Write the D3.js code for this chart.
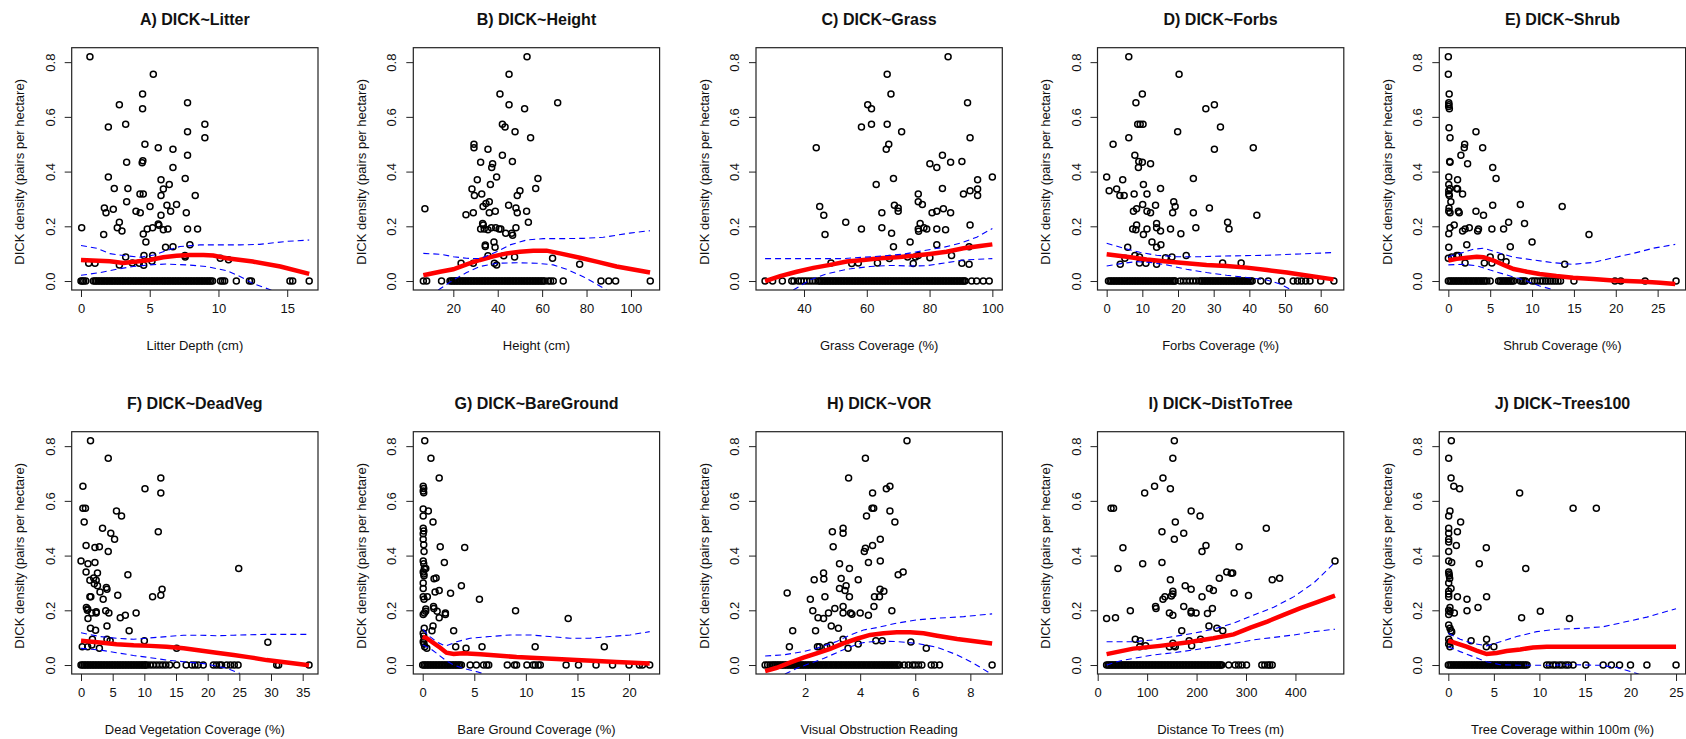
<!DOCTYPE html>
<html>
<head>
<meta charset="utf-8">
<script src="https://d3js.org/d3.v7.min.js"></script>
<style>
  body { margin: 0; background: #fff; }
  svg { display: block; font-family: "Liberation Sans", Arial, sans-serif; }
</style>
</head>
<body>
<svg id="chart" width="1686" height="739"></svg>
<script>
// ---- data ----
var yTicks = [0, 0.2, 0.4, 0.6, 0.8];
var yDomain = [-0.0328, 0.8528];

var titles = ["A) DICK~Litter", "B) DICK~Height", "C) DICK~Grass", "D) DICK~Forbs", "E) DICK~Shrub",
              "F) DICK~DeadVeg", "G) DICK~BareGround", "H) DICK~VOR", "I) DICK~DistToTree", "J) DICK~Trees100"];
var xLabels = ["Litter Depth (cm)", "Height (cm)", "Grass Coverage (%)", "Forbs Coverage (%)", "Shrub Coverage (%)",
               "Dead Vegetation Coverage (%)", "Bare Ground Coverage (%)", "Visual Obstruction Reading",
               "Distance To Trees (m)", "Tree Coverage within 100m (%)"];
var xTicks = [[0,5,10,15], [20,40,60,80,100], [40,60,80,100], [0,10,20,30,40,50,60], [0,5,10,15,20,25],
              [0,5,10,15,20,25,30,35], [0,5,10,15,20], [2,4,6,8], [0,100,200,300,400], [0,5,10,15,20,25]];
var xDomains = [[-0.676,17.24], [1.98,112.9], [24.71,103.17], [-2.57,66.48], [-1.08,28.34],
                [-1.47,37.42], [-0.91,22.96], [0.218,9.16], [-0.4,497.8], [-0.99,26.05]];

// A) litter
var litterPts = [[0.65,0.82],[5.26,0.756],[4.48,0.684],[7.75,0.652],[2.79,0.644],[4.48,0.63],[3.25,0.573],[9.01,0.573],[1.99,0.563],[7.75,0.546],[9.01,0.524],[4.65,0.5],[5.62,0.487],[6.69,0.482],[7.75,0.46],[4.5,0.44],[4.45,0.432],[3.32,0.434],[6.69,0.415],[7.58,0.375],[1.99,0.38],[5.82,0.37],[2.42,0.338],[3.41,0.338],[6.42,0.353],[5.99,0.336],[4.29,0.318],[4.53,0.318],[5.82,0.313],[8.31,0.313],[3.32,0.29],[6.25,0.277],[6.95,0.28],[1.7,0.267],[2.35,0.262],[5.02,0.272],[1.82,0.25],[4.0,0.255],[4.31,0.25],[6.52,0.255],[7.66,0.25],[5.82,0.24],[2.79,0.215],[5.62,0.208],[5.67,0.204],[0.05,0.195],[2.64,0.195],[2.98,0.183],[4.82,0.19],[5.21,0.195],[5.99,0.187],[6.32,0.19],[7.75,0.19],[8.48,0.19],[4.53,0.172],[1.65,0.17],[4.72,0.143],[7.92,0.133],[6.15,0.123],[6.69,0.125],[3.25,0.088],[4.58,0.093],[5.21,0.093],[7.58,0.088],[7.56,0.093],[10.13,0.083],[10.73,0.078],[0.56,0.065],[1.02,0.065],[2.79,0.059],[3.73,0.066],[4.24,0.065],[4.56,0.058],[5.16,0.072]];
var litterZeros = [0,0.1,0.2,0.35,0.9,1.02,1.13,1.25,1.37,1.49,1.6,1.72,1.84,1.95,2.07,2.19,2.3,2.42,2.54,2.66,2.77,2.89,3.01,3.12,3.24,3.36,3.48,3.59,3.71,3.83,3.94,4.06,4.18,4.3,4.41,4.53,4.65,4.76,4.88,5.0,5.12,5.23,5.35,5.47,5.58,5.7,5.82,5.94,6.05,6.17,6.29,6.4,6.52,6.64,6.76,6.87,6.99,7.11,7.22,7.34,7.46,7.58,7.69,7.81,7.93,8.04,8.16,8.28,8.4,8.51,8.63,8.75,8.86,8.98,9.1,9.22,9.33,9.45,9.57,10.15,10.3,10.45,11.3,12.25,12.4,15.2,15.4,16.6];
var litterFit = [[0,0.077],[2.1,0.072],[3.08,0.066],[4.05,0.071],[5.0,0.077],[5.98,0.087],[6.95,0.092],[7.92,0.095],[8.9,0.095],[9.62,0.093],[10.6,0.083],[12.5,0.071],[14.5,0.053],[16.6,0.026]];
var litterUpper = [[0,0.13],[1.14,0.12],[2.1,0.1],[3.3,0.092],[4.3,0.087],[5.3,0.095],[6.2,0.111],[7.2,0.126],[8.65,0.132],[9.86,0.132],[11.6,0.132],[13.0,0.134],[15.0,0.145],[16.6,0.15]];
var litterLower = [[0,0.021],[1.4,0.031],[2.6,0.043],[3.8,0.053],[5.0,0.059],[6.2,0.062],[7.7,0.059],[9.1,0.053],[10.6,0.038],[11.6,0.016],[12.5,-0.009],[14.0,-0.036]];

// B) height
var heightPts = [[53.2,0.82],[45.1,0.756],[41.0,0.684],[67.0,0.652],[45.1,0.644],[52.1,0.63],[42.1,0.573],[43.3,0.563],[47.8,0.546],[54.8,0.524],[29.3,0.5],[29.3,0.487],[35.6,0.482],[42.1,0.46],[46.6,0.437],[32.3,0.434],[37.7,0.429],[37.3,0.415],[39.5,0.38],[58.1,0.375],[30.8,0.37],[57.1,0.338],[28.4,0.336],[50.0,0.33],[36.7,0.353],[32.8,0.318],[29.5,0.313],[48.8,0.313],[36.2,0.29],[34.7,0.283],[33.4,0.272],[44.9,0.277],[48.2,0.267],[7.2,0.264],[29.0,0.25],[25.7,0.242],[36.2,0.25],[38.9,0.255],[48.8,0.25],[53.0,0.255],[53.8,0.215],[33.2,0.21],[33.5,0.205],[32.3,0.19],[33.9,0.19],[35.6,0.187],[37.1,0.195],[39.1,0.195],[40.6,0.19],[41.4,0.19],[43.6,0.175],[46.3,0.175],[46.7,0.167],[48.2,0.195],[34.4,0.132],[34.4,0.126],[38.3,0.143],[38.8,0.123],[35.6,0.092],[42.7,0.092],[47.6,0.088],[23.5,0.065],[29.0,0.065],[38.5,0.065],[39.5,0.059],[64.7,0.083],[76.9,0.061]];
var heightZeros = [6.5,8.0,14.7,18.5,19.2,19.9,20.6,21.3,22.0,22.7,23.4,24.1,24.8,25.5,26.2,26.9,27.6,28.3,29.0,29.7,30.4,31.1,31.8,32.5,33.2,33.9,34.6,35.3,36.0,36.7,37.4,38.1,38.8,39.5,40.2,40.9,41.6,42.3,43.0,43.7,44.4,45.1,45.8,46.5,47.2,47.9,48.6,49.3,50.0,50.7,51.4,52.1,52.8,53.5,54.2,54.9,55.6,56.3,57.0,57.7,58.4,59.1,59.8,60.5,61.2,62.8,63.8,65.0,69.5,86.5,90.0,93.1,108.7];
var heightFit = [[6.5,0.021],[14,0.034],[20,0.043],[26,0.061],[32,0.077],[38,0.09],[44,0.101],[50,0.107],[56,0.111],[62,0.111],[68,0.101],[77,0.085],[84.5,0.071],[93.5,0.053],[108.6,0.031]];
var heightUpper = [[6.5,0.101],[14,0.098],[20,0.089],[26,0.083],[32,0.082],[39.5,0.107],[45.5,0.132],[53,0.15],[60.5,0.155],[69.5,0.155],[78.5,0.156],[87.5,0.16],[99.5,0.175],[108.6,0.184]];
var heightLower = [[13.2,-0.033],[20,0.004],[26,0.031],[32,0.053],[39.5,0.065],[48.5,0.067],[57.5,0.065],[65,0.059],[71,0.043],[78.5,0.016],[84.5,-0.011],[89,-0.033]];

// C) grass
var grassPts = [[85.9,0.82],[66.5,0.756],[67.7,0.684],[92.1,0.652],[60.3,0.644],[61.5,0.63],[58.3,0.563],[61.5,0.573],[66.5,0.573],[71.1,0.546],[92.9,0.524],[67.0,0.5],[66.2,0.482],[43.9,0.487],[84.1,0.46],[80.1,0.429],[82.3,0.415],[86.7,0.434],[90.3,0.437],[68.5,0.375],[100,0.38],[95.3,0.37],[63.0,0.353],[84.1,0.338],[92.9,0.33],[95.3,0.336],[90.8,0.318],[95.3,0.313],[76.4,0.318],[76.4,0.29],[77.7,0.28],[68.8,0.277],[70.0,0.267],[70.0,0.255],[45.0,0.272],[64.8,0.25],[46.3,0.24],[80.8,0.25],[82.3,0.255],[84.4,0.264],[86.7,0.25],[53.3,0.215],[92.9,0.205],[58.3,0.19],[64.8,0.195],[77.0,0.21],[76.4,0.19],[79.1,0.19],[76.5,0.182],[78.2,0.195],[82.3,0.19],[85.1,0.187],[67.9,0.175],[46.7,0.17],[73.8,0.143],[68.5,0.125],[82.3,0.133],[92.6,0.125],[73.0,0.088],[76.4,0.093],[75.5,0.088],[87.0,0.093],[48.6,0.066],[55.2,0.064],[57.3,0.066],[63.4,0.066],[67.2,0.082],[74.8,0.064],[90.3,0.065],[92.6,0.061],[80.1,0.085]];
var grassZeros = [27.6,30.0,33.1,36.1,36.8,38.2,39.1,40.0,40.9,41.8,42.7,43.6,44.5,45.0,45.5,46.0,46.5,47.0,47.5,48.0,48.5,49.0,49.5,50.0,50.5,51.0,51.5,52.0,52.5,53.0,53.5,54.0,54.5,55.0,55.5,56.0,56.5,57.0,57.5,58.0,58.5,59.0,59.5,60.0,60.5,61.0,61.5,62.0,62.5,63.0,63.5,64.0,64.5,65.0,65.5,66.0,66.5,67.0,67.5,68.0,68.5,69.0,69.5,70.0,70.5,71.0,71.5,72.0,72.5,73.0,73.5,74.0,74.5,75.0,75.5,76.0,76.5,77.0,77.5,78.0,78.5,79.0,79.5,80.0,80.5,81.0,81.5,82.0,82.5,83.0,83.5,84.0,84.5,85.0,85.5,86.0,86.5,87.0,87.5,88.0,88.5,89.0,89.5,90.0,90.5,91.0,91.3,93.4,95.0,97.1,99.0];
var grassFit = [[27.6,0.0],[32.4,0.018],[37.7,0.034],[43,0.048],[48.3,0.059],[53.6,0.071],[58.9,0.077],[64.2,0.083],[69.5,0.087],[74.8,0.092],[80.1,0.099],[85.4,0.107],[90.8,0.12],[96.1,0.128],[100,0.134]];
var grassUpper = [[27.6,0.082],[39.8,0.082],[52.5,0.082],[58.9,0.087],[65.3,0.092],[71.6,0.098],[78,0.111],[84.4,0.123],[89.7,0.138],[95,0.16],[100,0.192]];
var grassLower = [[36.6,-0.033],[41.9,0.004],[47.2,0.026],[53.6,0.043],[61,0.053],[67.4,0.057],[73.8,0.055],[79.1,0.056],[85.4,0.067],[90.8,0.077],[100,0.082]];

// D) forbs
var forbsPts = [[6.2,0.82],[20.3,0.756],[10.0,0.684],[8.2,0.652],[27.8,0.63],[30.2,0.644],[8.7,0.573],[9.4,0.573],[10.2,0.573],[31.9,0.563],[6.2,0.524],[19.9,0.546],[1.8,0.5],[30.2,0.482],[41.1,0.487],[7.9,0.46],[9.0,0.437],[10.0,0.434],[12.3,0.429],[8.9,0.415],[0,0.38],[24.3,0.375],[4.5,0.37],[10.3,0.353],[0.7,0.33],[2.8,0.336],[3.7,0.313],[4.9,0.313],[15.1,0.338],[7.7,0.318],[11.3,0.318],[10.1,0.28],[13.7,0.277],[18.8,0.29],[19.2,0.272],[28.8,0.267],[7.5,0.255],[8.4,0.264],[11.3,0.255],[12.3,0.25],[18.5,0.25],[24.3,0.25],[42.1,0.24],[33.9,0.215],[34.3,0.19],[14.0,0.21],[14.0,0.195],[15.1,0.183],[7.3,0.19],[8.2,0.187],[8.4,0.205],[11.3,0.19],[17.9,0.19],[25.0,0.195],[20.8,0.173],[10.3,0.17],[12.7,0.143],[15.2,0.133],[14.0,0.123],[5.9,0.123],[7.9,0.093],[9.2,0.088],[18.3,0.088],[22.3,0.093],[3.8,0.061],[5.1,0.083],[9.2,0.066],[11.0,0.065],[14.0,0.061],[16.5,0.085],[32.5,0.066],[37.7,0.066]];
var forbsZeros = [0.5,0.95,1.4,1.85,2.3,2.75,3.2,3.65,4.1,4.55,5.0,5.45,5.9,6.35,6.8,7.25,7.7,8.15,8.6,9.05,9.5,9.95,10.4,10.85,11.3,11.75,12.2,12.65,13.1,13.55,14.0,14.45,14.9,15.35,15.8,16.25,16.7,17.15,17.6,18.05,18.5,18.95,19.2,20.6,21.5,22.4,23.3,24.2,25.1,26.0,26.45,26.9,27.35,27.8,28.25,28.7,29.15,29.6,30.05,30.5,30.95,31.4,31.85,32.3,32.75,33.2,33.65,34.1,34.55,35.0,35.45,35.9,36.35,36.8,37.25,37.7,38.15,38.6,39.05,39.5,39.95,40.4,40.8,43.2,45.3,49.1,52.3,53.5,54.6,55.8,57.0,60.0,63.7];
var forbsFit = [[0,0.098],[5.6,0.089],[11.2,0.079],[16.8,0.071],[22.4,0.065],[28,0.059],[33.6,0.055],[39.3,0.049],[44.9,0.04],[50.5,0.031],[56.1,0.02],[63.6,0.006]];
var forbsUpper = [[0,0.138],[4.7,0.12],[9.3,0.105],[14,0.094],[19.6,0.089],[26.2,0.089],[35.5,0.092],[44.9,0.094],[54.2,0.099],[63.6,0.104]];
var forbsLower = [[0,0.055],[4.7,0.065],[8.4,0.071],[12.1,0.068],[16.8,0.059],[22.4,0.043],[28,0.031],[33.6,0.021],[39.3,0.013],[44.9,0.004],[48.6,-0.011],[51.9,-0.033]];

// E) shrub
var shrubPts = [[0,0.82],[0,0.756],[0.1,0.684],[0.05,0.652],[0.08,0.644],[0.04,0.638],[0.12,0.63],[0.08,0.56],[0.2,0.524],[3.3,0.546],[1.95,0.5],[1.9,0.487],[4.1,0.487],[1.5,0.46],[0.16,0.437],[0.2,0.434],[2.3,0.429],[5.3,0.415],[5.7,0.375],[0.05,0.38],[1.1,0.37],[0.05,0.353],[0.05,0.33],[0.2,0.338],[1.0,0.338],[1.1,0.336],[0.05,0.318],[0.12,0.313],[1.7,0.318],[0.3,0.29],[8.6,0.28],[5.3,0.277],[13.6,0.272],[0.08,0.267],[0.05,0.255],[0.2,0.25],[1.2,0.255],[1.3,0.25],[3.3,0.255],[4.2,0.24],[7.2,0.215],[9.1,0.21],[0.7,0.205],[0.2,0.195],[1.7,0.183],[2.0,0.19],[2.5,0.195],[3.6,0.19],[3.5,0.183],[5.2,0.19],[6.6,0.19],[0.05,0.173],[16.8,0.17],[10.0,0.143],[2.2,0.133],[7.4,0.125],[0.05,0.123],[0,0.083],[0.4,0.088],[1.0,0.093],[1.2,0.093],[5.0,0.088],[6.3,0.088],[2.0,0.066],[4.3,0.066],[5.2,0.066],[6.9,0.07],[13.9,0.061]];
var shrubZeros = [0,0.2,0.4,0.6,0.8,1.0,1.2,1.4,1.6,1.8,2.0,2.2,2.4,2.6,2.8,3.0,3.2,3.4,3.6,3.8,4.0,4.2,4.4,4.6,5.0,6.0,6.2,6.4,6.6,6.8,7.0,7.2,7.4,7.6,7.8,8.6,8.8,9.0,9.2,10.0,10.3,10.6,11.0,11.3,11.6,11.9,12.2,12.5,12.8,13.1,13.4,15.0,19.9,20.6,23.5,27.2];
var shrubFit = [[0,0.075],[1.0,0.081],[2.2,0.085],[3.4,0.089],[4.2,0.087],[5.4,0.075],[6.6,0.059],[7.8,0.044],[9.4,0.034],[10.9,0.026],[12.9,0.018],[14.9,0.012],[17.3,0.007],[19.7,0.002],[22.9,-0.002],[25.3,-0.006],[27.1,-0.011]];
var shrubUpper = [[0,0.089],[1.4,0.101],[3.0,0.116],[4.2,0.12],[5.8,0.105],[7.8,0.087],[10.2,0.077],[12.5,0.067],[14.9,0.061],[17.3,0.068],[19.7,0.085],[22.1,0.101],[24.5,0.12],[27.1,0.134]];
var shrubLower = [[0,0.059],[1.8,0.061],[3.4,0.056],[5.0,0.04],[7.0,0.022],[9.0,0.004],[10.9,-0.018],[12.7,-0.033]];

// F) dead vegetation
var deadPts = [[1.5,0.82],[4.3,0.756],[12.6,0.684],[0.3,0.653],[10.1,0.644],[12.6,0.629],[0.3,0.573],[0.7,0.573],[5.6,0.563],[6.4,0.545],[0.5,0.523],[3.4,0.5],[12.2,0.487],[4.7,0.482],[5.3,0.46],[0.8,0.437],[2.2,0.43],[2.9,0.432],[4.3,0.415],[0,0.38],[1.1,0.37],[2.2,0.375],[0.8,0.34],[2.6,0.336],[7.4,0.33],[24.9,0.353],[1.4,0.31],[2.0,0.318],[2.4,0.31],[2.1,0.297],[2.6,0.29],[4.0,0.283],[4.1,0.277],[12.8,0.277],[3.0,0.267],[3.5,0.24],[1.4,0.25],[1.55,0.25],[5.8,0.255],[11.3,0.25],[12.6,0.255],[0.85,0.21],[1.05,0.205],[1.0,0.2],[1.7,0.19],[2.4,0.19],[2.4,0.195],[3.9,0.198],[4.4,0.19],[8.7,0.19],[7.0,0.182],[6.2,0.173],[1.1,0.17],[4.1,0.143],[1.5,0.134],[2.3,0.127],[7.6,0.125],[4.1,0.094],[4.6,0.089],[10.0,0.089],[29.5,0.083],[0.2,0.067],[1.7,0.073],[1.05,0.067],[2.9,0.061],[15.1,0.061],[1.8,0.094]];
var deadZeros = [0,0.25,0.5,0.75,1,1.25,1.5,1.75,2,2.25,2.5,2.75,3,3.25,3.5,3.75,4,4.25,4.5,4.75,5,5.25,5.5,5.75,6,6.25,6.5,6.75,7,7.25,7.5,7.75,8,8.25,8.5,8.75,9,9.25,9.5,9.75,10,10.2,10.4,10.9,11.4,11.9,12.4,12.9,13.4,14.0,15.1,16.6,17.5,18.0,18.5,19.3,20.9,21.4,21.9,22.2,23.0,23.6,24.2,24.8,30.9,31.2,36.0];
var deadFit = [[0,0.089],[3.0,0.082],[5.6,0.076],[8.3,0.072],[10.9,0.07],[13.5,0.067],[16.2,0.061],[18.8,0.053],[21.4,0.045],[24.1,0.037],[26.7,0.028],[29.3,0.018],[32.5,0.009],[36,-0.001]];
var deadUpper = [[0,0.118],[3.0,0.104],[5.6,0.098],[8.3,0.094],[10.9,0.099],[13.5,0.104],[16.2,0.109],[18.8,0.109],[21.4,0.107],[24.1,0.109],[29.3,0.112],[36,0.112]];
var deadLower = [[0,0.061],[3,0.055],[5.6,0.045],[8.3,0.035],[10.9,0.027],[13.5,0.018],[16.7,0.011],[19.8,0.004],[23,-0.012],[25.1,-0.031]];

// G) bare ground
var barePts = [[0.2,0.82],[0.8,0.756],[1.6,0.684],[0.05,0.653],[0.1,0.645],[0.05,0.636],[0.1,0.63],[0.05,0.57],[0.55,0.563],[0.05,0.545],[1.0,0.523],[0.05,0.5],[0.1,0.49],[0.05,0.48],[0.05,0.46],[0.1,0.44],[0.13,0.415],[1.7,0.432],[4.07,0.43],[0.05,0.38],[0.1,0.37],[0.16,0.353],[2.1,0.375],[0.05,0.34],[0.1,0.333],[0.13,0.326],[0.3,0.353],[1.1,0.315],[1.3,0.318],[3.75,0.29],[1.2,0.267],[1.6,0.272],[2.7,0.262],[0.05,0.3],[0.05,0.28],[0.05,0.25],[0.13,0.24],[0.45,0.25],[5.5,0.24],[1.05,0.214],[1.08,0.207],[0.16,0.19],[0.05,0.185],[0.3,0.205],[0.29,0.197],[1.4,0.197],[2.2,0.19],[2.2,0.185],[1.6,0.173],[9.0,0.198],[14.1,0.17],[1.0,0.143],[0.15,0.134],[0.9,0.125],[3.0,0.125],[0.05,0.116],[0.1,0.106],[0.16,0.094],[0.05,0.085],[0.13,0.077],[0.2,0.067],[0.4,0.061],[3.2,0.067],[4.2,0.061],[5.75,0.067],[10.9,0.067],[17.6,0.067]];
var bareZeros = [0,0.15,0.3,0.45,0.6,0.75,0.9,1.05,1.2,1.35,1.5,1.65,1.8,1.95,2.1,2.25,2.4,2.55,2.7,2.85,3,3.15,3.3,3.45,3.6,3.75,4.6,5.2,5.9,6.2,6.4,8.2,8.9,9.1,10.1,10.7,10.9,11.2,11.4,13.9,15.1,16.8,18.4,20.0,21.0,21.3,22.0];
var bareFit = [[0,0.104],[0.4,0.098],[1.0,0.082],[1.7,0.063],[2.3,0.045],[3.0,0.04],[3.9,0.043],[5.6,0.039],[7.2,0.035],[9.1,0.029],[11.0,0.026],[13.0,0.022],[14.9,0.018],[16.9,0.015],[18.8,0.011],[22,0.006]];
var bareUpper = [[0,0.13],[0.7,0.104],[1.35,0.085],[2.2,0.069],[3.3,0.085],[4.6,0.098],[6.5,0.104],[8.5,0.11],[10.4,0.11],[12.3,0.104],[14.3,0.098],[16.2,0.098],[18.2,0.104],[20.1,0.11],[22.0,0.122]];
var bareLower = [[0,0.073],[0.7,0.061],[1.35,0.043],[2.2,0.018],[3.0,0.0],[3.9,-0.012],[5.2,-0.024],[6.0,-0.033]];

// H) visual obstruction
var vorPts = [[5.7,0.82],[4.19,0.756],[3.58,0.684],[5.08,0.653],[4.95,0.644],[4.45,0.629],[4.43,0.573],[4.49,0.573],[5.08,0.563],[4.23,0.545],[5.26,0.523],[3.38,0.5],[3.38,0.482],[2.99,0.487],[4.73,0.46],[4.45,0.437],[3.02,0.432],[4.15,0.415],[4.19,0.427],[4.3,0.375],[4.73,0.38],[3.25,0.37],[3.61,0.353],[5.56,0.34],[5.38,0.33],[2.67,0.336],[2.68,0.314],[2.33,0.312],[3.31,0.316],[3.93,0.312],[3.49,0.29],[3.45,0.272],[3.61,0.25],[2.72,0.25],[3.25,0.28],[1.35,0.263],[4.86,0.27],[4.7,0.25],[4.52,0.25],[4.72,0.277],[2.19,0.24],[2.28,0.198],[3.08,0.207],[3.38,0.214],[4.5,0.214],[5.15,0.198],[3.38,0.19],[3.65,0.19],[3.7,0.186],[4.0,0.19],[2.85,0.19],[2.47,0.173],[2.67,0.17],[4.3,0.182],[1.55,0.125],[2.38,0.125],[2.95,0.143],[3.21,0.134],[1.43,0.067],[2.45,0.067],[2.52,0.067],[2.79,0.067],[2.92,0.072],[3.38,0.094],[3.56,0.061],[3.93,0.077],[4.57,0.089],[4.8,0.089],[5.84,0.084],[6.4,0.061]];
var vorZeros = [0.55,0.64,0.73,0.81,0.87,0.93,0.99,1.05,1.11,1.17,1.23,1.29,1.35,1.41,1.47,1.53,1.59,1.65,1.71,1.77,1.83,1.89,1.95,2.01,2.07,2.13,2.19,2.25,2.31,2.37,2.43,2.49,2.55,2.61,2.67,2.73,2.79,2.85,2.91,2.97,3.03,3.09,3.15,3.21,3.27,3.33,3.39,3.45,3.51,3.57,3.63,3.69,3.75,3.81,3.87,3.93,3.99,4.05,4.11,4.17,4.23,4.29,4.35,4.41,4.47,4.53,4.59,4.65,4.71,4.77,4.83,4.89,4.95,5.01,5.07,5.13,5.19,5.25,5.31,5.37,5.43,5.6,5.75,5.9,6.0,6.12,6.24,6.58,6.7,6.88,8.79];
var vorFit = [[0.55,-0.022],[0.97,-0.01],[1.45,0.009],[1.94,0.027],[2.42,0.043],[2.91,0.059],[3.39,0.079],[3.88,0.096],[4.36,0.11],[4.85,0.116],[5.33,0.12],[5.82,0.12],[6.3,0.116],[6.79,0.107],[7.52,0.095],[8.79,0.079]];
var vorUpper = [[0.55,0.033],[1.21,0.037],[1.94,0.049],[2.42,0.061],[3.15,0.086],[3.64,0.11],[4.12,0.128],[4.61,0.137],[5.33,0.153],[6.06,0.165],[6.79,0.171],[7.76,0.177],[8.79,0.187]];
var vorLower = [[1.27,-0.033],[1.7,-0.012],[2.18,0.006],[2.67,0.024],[3.15,0.045],[3.64,0.067],[4.12,0.082],[4.61,0.087],[5.33,0.086],[6.06,0.079],[6.79,0.065],[7.52,0.037],[8.12,0.006],[8.73,-0.031]];

// I) distance to trees
var distPts = [[155,0.82],[152,0.756],[132,0.684],[115,0.653],[147,0.644],[95,0.629],[27,0.573],[32,0.573],[189,0.563],[207,0.545],[157,0.523],[341,0.5],[130,0.487],[174,0.482],[155,0.46],[219,0.437],[286,0.432],[51,0.429],[211,0.415],[480,0.38],[91,0.37],[130,0.375],[41,0.353],[261,0.34],[270,0.335],[273,0.336],[353,0.312],[368,0.317],[246,0.317],[147,0.312],[177,0.29],[189,0.277],[226,0.28],[234,0.272],[152,0.27],[152,0.26],[136,0.25],[149,0.252],[132,0.24],[276,0.263],[305,0.254],[211,0.25],[117,0.214],[118,0.207],[66,0.198],[174,0.214],[232,0.207],[145,0.19],[152,0.182],[189,0.197],[189,0.19],[199,0.19],[222,0.188],[18,0.17],[36,0.173],[170,0.125],[225,0.143],[241,0.134],[253,0.125],[76,0.094],[86,0.089],[85,0.067],[97,0.07],[152,0.08],[154,0.07],[145,0.067],[157,0.067],[185,0.089],[190,0.07],[208,0.094]];
var distZeros = [18,21,24,27,30,33,36,39,42,45,48,51,54,57,60,63,66,69,72,75,78,81,84,87,90,93,96,99,102,105,108,111,114,117,120,123,126,129,132,135,138,141,144,147,150,153,156,159,162,165,168,171,174,177,180,183,186,189,192,195,198,201,204,207,210,213,216,219,222,225,228,231,234,237,240,243,246,249,251,265,278,285,292,301,332,338,344,348,353];
var distFit = [[18,0.04],[72,0.06],[126,0.07],[180,0.082],[234,0.098],[275,0.112],[309,0.137],[343,0.159],[376,0.183],[410,0.208],[444,0.23],[480,0.254]];
var distUpper = [[18,0.085],[72,0.085],[113,0.092],[153,0.104],[194,0.116],[234,0.131],[275,0.153],[316,0.183],[356,0.211],[397,0.25],[437,0.3],[480,0.375]];
var distLower = [[18,0.0],[45,0.015],[72,0.024],[113,0.037],[153,0.045],[194,0.055],[234,0.067],[275,0.079],[316,0.092],[356,0.101],[397,0.11],[437,0.122],[480,0.131]];

// J) tree cover within 100 m
var treePts = [[0.33,0.82],[0.04,0.756],[0.3,0.684],[0.6,0.653],[1.24,0.644],[7.83,0.629],[13.7,0.573],[16.25,0.573],[0.18,0.563],[0.04,0.545],[1.35,0.523],[0.04,0.5],[0.04,0.482],[0.04,0.46],[1.0,0.487],[0.88,0.437],[0.04,0.45],[0.04,0.415],[4.17,0.429],[3.4,0.37],[8.5,0.353],[0.04,0.38],[0.37,0.375],[0.04,0.34],[0.08,0.333],[0.11,0.326],[0.15,0.316],[0.3,0.28],[0.04,0.3],[0.04,0.27],[0.04,0.26],[0.04,0.25],[1.0,0.25],[2.05,0.24],[4.2,0.25],[3.26,0.21],[2.05,0.198],[10.1,0.197],[0.18,0.21],[0.04,0.2],[0.18,0.195],[0.66,0.19],[0.04,0.185],[8.05,0.173],[13.3,0.17],[0.04,0.146],[0.18,0.134],[0.3,0.125],[0.37,0.121],[0.04,0.094],[0.18,0.085],[0.04,0.077],[0.18,0.067],[2.5,0.089],[4.2,0.094],[4.17,0.067],[5.0,0.067]];
var treeZeros = [0,0.18,0.36,0.54,0.72,0.9,1.08,1.26,1.44,1.62,1.8,1.98,2.16,2.34,2.52,2.7,2.88,3.06,3.24,3.42,3.6,3.78,3.96,4.14,4.32,4.5,4.68,4.86,5.04,5.22,5.4,5.58,5.76,5.94,6.12,6.3,6.48,6.66,6.84,7.02,7.2,7.38,7.56,7.74,7.92,8.1,8.28,8.46,8.64,10.8,11.1,11.5,11.8,12.2,12.5,12.9,13.2,13.7,15.1,17.0,17.9,18.8,20.0,21.8,25.0];
var treeFit = [[0,0.089],[0.9,0.079],[2.0,0.067],[3.1,0.053],[4.2,0.04],[5.3,0.044],[6.4,0.051],[7.9,0.057],[9.3,0.064],[10.8,0.067],[13.7,0.067],[17.4,0.067],[25,0.067]];
var treeUpper = [[0,0.116],[1.3,0.094],[2.7,0.079],[4.2,0.07],[5.7,0.085],[7.5,0.104],[9.7,0.122],[11.9,0.131],[14.5,0.134],[17.0,0.14],[19.2,0.156],[21.8,0.175],[25,0.206]];
var treeLower = [[0,0.067],[1.3,0.049],[2.7,0.031],[4.2,0.012],[5.7,0.001],[7.9,-0.001],[10.8,-0.001],[13.7,0.001],[16.7,-0.001],[18.5,-0.009],[20,-0.024],[20.9,-0.033]];

// ---- layout ----
var lefts = [71.7, 413.3, 756, 1097.5, 1439.3];
var tops = [47.7, 431.7];
var plotW = 246.3, plotH = 242.3;

var panels = [
  [litterPts, litterZeros, litterFit, litterUpper, litterLower],
  [heightPts, heightZeros, heightFit, heightUpper, heightLower],
  [grassPts, grassZeros, grassFit, grassUpper, grassLower],
  [forbsPts, forbsZeros, forbsFit, forbsUpper, forbsLower],
  [shrubPts, shrubZeros, shrubFit, shrubUpper, shrubLower],
  [deadPts, deadZeros, deadFit, deadUpper, deadLower],
  [barePts, bareZeros, bareFit, bareUpper, bareLower],
  [vorPts, vorZeros, vorFit, vorUpper, vorLower],
  [distPts, distZeros, distFit, distUpper, distLower],
  [treePts, treeZeros, treeFit, treeUpper, treeLower]
];

var svg = d3.select("#chart");
var y = d3.scaleLinear().domain(yDomain).range([plotH, 0]);

panels.forEach(function(p, i) {
  var g = svg.append("g")
    .attr("transform", "translate(" + lefts[i % 5] + "," + tops[Math.floor(i / 5)] + ")");
  var x = d3.scaleLinear().domain(xDomains[i]).range([0, plotW]);

  g.append("clipPath").attr("id", "clip" + i)
    .append("rect").attr("width", plotW).attr("height", plotH);

  // axes
  var xAxis = g.append("g")
    .attr("transform", "translate(0," + plotH + ")")
    .call(d3.axisBottom(x).tickValues(xTicks[i]).tickSize(7).tickPadding(4).tickSizeOuter(0));
  xAxis.select(".domain").remove();
  xAxis.selectAll("line").attr("stroke", "#222");
  xAxis.selectAll("text").style("font-size", "13px").attr("fill", "#111").attr("dy", "0.9em");

  var yAxis = g.append("g")
    .call(d3.axisLeft(y).tickValues(yTicks).tickFormat(d3.format(".1f")).tickSize(7).tickSizeOuter(0));
  yAxis.select(".domain").remove();
  yAxis.selectAll("line").attr("stroke", "#222");
  yAxis.selectAll("text")
    .style("font-size", "13px").attr("fill", "#111")
    .attr("text-anchor", "middle")
    .attr("x", 0).attr("dy", 0)
    .attr("transform", "translate(-17,0) rotate(-90)");

  // zero points, then the others
  g.append("g").selectAll("circle").data(p[1]).join("circle")
    .attr("cx", function(d) { return x(d); })
    .attr("cy", y(0))
    .attr("r", 3).attr("fill", "none").attr("stroke", "#000").attr("stroke-width", 1.5);
  g.append("g").selectAll("circle").data(p[0]).join("circle")
    .attr("cx", function(d) { return x(d[0]); })
    .attr("cy", function(d) { return y(d[1]); })
    .attr("r", 3).attr("fill", "none").attr("stroke", "#000").attr("stroke-width", 1.5);

  var line = d3.line().x(function(d) { return x(d[0]); }).y(function(d) { return y(d[1]); });
  var lines = g.append("g").attr("clip-path", "url(#clip" + i + ")");
  lines.append("path").attr("d", line(p[2]))
    .attr("fill", "none").attr("stroke", "#ff0000").attr("stroke-width", 4.5);
  [p[3], p[4]].forEach(function(band) {
    lines.append("path").attr("d", line(band))
      .attr("fill", "none").attr("stroke", "#0000ff").attr("stroke-width", 1.1)
      .attr("stroke-dasharray", "6,4");
  });

  // box
  g.append("rect").attr("width", plotW).attr("height", plotH)
    .attr("fill", "none").attr("stroke", "#222").attr("stroke-width", 1.2);

  // titles and labels
  g.append("text").text(titles[i])
    .attr("x", plotW / 2).attr("y", -28.7).attr("dy", "0.35em")
    .attr("text-anchor", "middle")
    .style("font-size", "16px").style("font-weight", "bold").attr("fill", "#111");
  g.append("text").text(xLabels[i])
    .attr("x", plotW / 2).attr("y", plotH + 55).attr("dy", "0.35em")
    .attr("text-anchor", "middle")
    .style("font-size", "13px").attr("fill", "#111");
  g.append("text").text("DICK density (pairs per hectare)")
    .attr("transform", "translate(-52," + (plotH / 2 + 3) + ") rotate(-90)")
    .attr("dy", "0.35em")
    .attr("text-anchor", "middle")
    .style("font-size", "13px").attr("fill", "#111");
});
</script>
</body>
</html>
